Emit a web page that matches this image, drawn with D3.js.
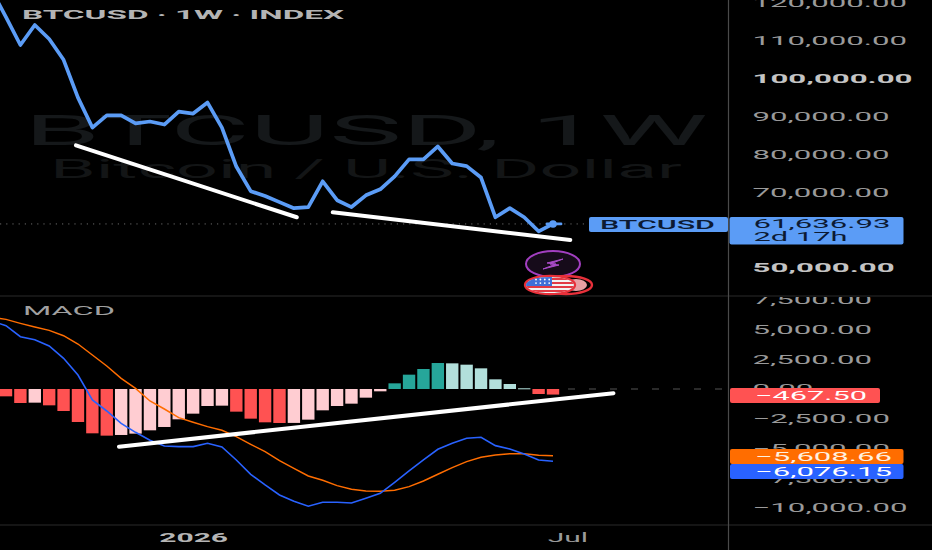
<!DOCTYPE html>
<html>
<head>
<meta charset="utf-8">
<title>BTCUSD</title>
<script src="https://d3js.org/d3.v7.min.js"></script>
<style>
html,body{margin:0;padding:0;background:#000;overflow:hidden}
svg{display:block}
text{font-family:Roboto,"Liberation Sans",sans-serif}
</style>
</head>
<body>
<svg class="chart"></svg>
<script>
// week index -1 sits just off the left edge
const weeks = d3.range(-1, 39)
const price = [123400,116300,108900,114200,110500,105000,95000,87100,90300,90300,88200,88700,87900,91300,90800,93700,87100,76800,70300,69000,67400,65800,66100,72900,67900,66100,69200,70800,74200,78700,78700,82100,77600,76900,73900,63400,65800,63400,59700,61636.93]
const macdLine = [5712,5320,4396,4144,3612,2576,1176,-924,-1848,-2884,-3640,-4312,-4788,-4844,-4844,-4564,-4872,-5964,-7168,-8064,-8904,-9436,-9856,-9520,-9520,-9576,-9184,-8764,-7840,-6888,-5964,-5068,-4564,-4144,-4060,-4760,-5040,-5460,-5964,-6076.15]
const signalLine = [6048,5852,5516,5208,4928,4480,3780,2856,1932,896,56,-1008,-1680,-2408,-2800,-3164,-3472,-4004,-4648,-5264,-6020,-6664,-7308,-7672,-8120,-8428,-8568,-8596,-8512,-8204,-7728,-7168,-6608,-6104,-5740,-5544,-5432,-5432,-5572,-5608.66]
const histogram = [-616,-1176,-1148,-1372,-1848,-2772,-3724,-3920,-3864,-3752,-3472,-3192,-2548,-2072,-1428,-1400,-1904,-2492,-2800,-2856,-2850,-2576,-1792,-1428,-1232,-728,-196,476,1204,1680,2184,2156,2044,1736,812,420,60,-420,-467.5]

const priceTicks = [120000,110000,100000,90000,80000,70000,50000]
const macdTicks = [7500,5000,2500,0,-2500,-5000,-7500,-10000]
const boldTicks = [100000,50000]
const timeTicks = [13,39]
const timeLabels = ['2026','Jul']

// hand drawn trend lines [week, value]
const priceTrends = [[[4.86,82400],[20.2,63400]],[[22.7,64700],[39.2,57400]]]
const macdTrend = [[7.85,-4850],[42.2,-350]]

const w = 932, h = 550
const axisX = 728.5
const svg = d3.select('.chart').attr('width', w).attr('height', h)
const defs = svg.append('defs')

const x = d3.scaleLinear().domain([0, 38]).range([6, 553])
const yPrice = d3.scaleLinear().domain([50000, 120000]).range([268, 3])
const yMacd = d3.scaleLinear().domain([-10000, 5000]).range([508, 329.5])
const barW = (x(1) - x(0)) * 0.86

// widen text the way the stretched screenshot does
function stretch(sel, k){
    sel.each(function(){
        let len = this.getComputedTextLength()
        d3.select(this).attr('textLength', len * k).attr('lengthAdjust', 'spacingAndGlyphs')
    })
}
function label(txt, px, py, size, color, width, weight){
    return svg.append('text').text(txt).attr('x', px).attr('y', py)
        .attr('font-size', size).attr('fill', color)
        .attr('font-weight', weight || 400)
        .attr('textLength', width).attr('lengthAdjust', 'spacingAndGlyphs')
}

svg.append('rect').attr('width', w).attr('height', h).attr('fill', '#000')

// watermark
label('BTCUSD, 1W', 24, 145, 42, '#15181a', 684)
label('Bitcoin / U.S. Dollar', 50, 178, 25, '#131516', 632)

// panel lines
svg.append('line').attr('x1', 0).attr('x2', w).attr('y1', 296).attr('y2', 296).attr('stroke', '#2b2b2b')
svg.append('line').attr('x1', 0).attr('x2', w).attr('y1', 525).attr('y2', 525).attr('stroke', '#2b2b2b')
svg.append('line').attr('x1', axisX).attr('x2', axisX).attr('y1', 0).attr('y2', h).attr('stroke', '#4a4a4a').attr('stroke-width', 1.2)

// last price dotted line, macd zero dashes
let lastPrice = price[price.length - 1]
svg.append('line').attr('x1', 0).attr('x2', 589).attr('y1', yPrice(lastPrice)).attr('y2', yPrice(lastPrice))
    .attr('stroke', '#6a6a6a').attr('stroke-dasharray', '1.2 5')
svg.append('line').attr('x1', 568).attr('x2', axisX).attr('y1', yMacd(0)).attr('y2', yMacd(0))
    .attr('stroke', '#555').attr('stroke-dasharray', '7 14')

// price line
const priceLine = d3.line().x((d, i) => x(weeks[i])).y(d => yPrice(d))
svg.append('path').attr('d', priceLine(price)).attr('fill', 'none')
    .attr('stroke', '#5b9cf6').attr('stroke-width', 3.7).attr('stroke-linejoin', 'round')
svg.append('circle').attr('cx', x(38)).attr('cy', yPrice(lastPrice)).attr('r', 3.8).attr('fill', '#5b9cf6')
svg.append('line').attr('x1', x(38) - 6).attr('x2', x(38) + 8).attr('y1', yPrice(lastPrice)).attr('y2', yPrice(lastPrice))
    .attr('stroke', '#5b9cf6').attr('stroke-width', 2.8).attr('stroke-linecap', 'round')

// histogram
svg.append('g').selectAll('rect').data(histogram).enter().append('rect')
    .attr('x', (d, i) => x(i) - barW / 2)
    .attr('width', barW)
    .attr('y', d => d > 0 ? yMacd(d) : yMacd(0))
    .attr('height', d => Math.max(1, Math.abs(yMacd(d) - yMacd(0))))
    .attr('fill', (d, i) => {
        let rising = i > 0 && d > histogram[i - 1]
        if(d >= 0) return rising ? '#26a69a' : '#b2dfdb'
        return rising ? '#ffcdd2' : '#ff5252'
    })

// macd + signal
const macdPath = d3.line().x((d, i) => x(weeks[i])).y(d => yMacd(d))
svg.append('path').attr('d', macdPath(signalLine)).attr('fill', 'none').attr('stroke', '#ff6d00').attr('stroke-width', 1.5)
svg.append('path').attr('d', macdPath(macdLine)).attr('fill', 'none').attr('stroke', '#2962ff').attr('stroke-width', 1.6)

// trend lines
const trendPrice = d3.line().x(d => x(d[0])).y(d => yPrice(d[1]))
priceTrends.forEach(t => {
    svg.append('path').attr('d', trendPrice(t)).attr('fill', 'none').attr('stroke', '#fff')
        .attr('stroke-width', 4).attr('stroke-linecap', 'round')
})
svg.append('path').attr('d', d3.line().x(d => x(d[0])).y(d => yMacd(d[1]))(macdTrend)).attr('fill', 'none')
    .attr('stroke', '#fff').attr('stroke-width', 4).attr('stroke-linecap', 'round')

// icons under the last bars
let iconX = x(38)
let bolt = svg.append('g').attr('transform', 'translate(' + iconX + ',264)')
bolt.append('ellipse').attr('rx', 27).attr('ry', 13).attr('fill', '#160b1a').attr('stroke', '#a23fc0').attr('stroke-width', 2)
bolt.append('path').attr('d', 'M10,-5 L-6,-1 L3,0 L-10,5 L6,1 L-3,0 Z').attr('fill', '#a94bc8').attr('stroke', '#a94bc8')

defs.append('clipPath').attr('id', 'flagClip').append('ellipse').attr('rx', 24).attr('ry', 8)
let flag = svg.append('g').attr('transform', 'translate(' + (iconX - 3) + ',285)')
flag.append('ellipse').attr('cx', 16).attr('rx', 26).attr('ry', 9).attr('fill', '#000').attr('stroke', '#e8303a').attr('stroke-width', 2.4)
flag.append('ellipse').attr('cx', 26).attr('rx', 11).attr('ry', 6).attr('fill', '#e8a0a4')
flag.append('ellipse').attr('rx', 25).attr('ry', 9).attr('fill', '#000').attr('stroke', '#e8303a').attr('stroke-width', 2.4)
let flagInner = flag.append('g').attr('clip-path', 'url(#flagClip)')
flagInner.append('rect').attr('x', -24).attr('y', -8).attr('width', 48).attr('height', 16).attr('fill', '#f2f2f2')
d3.range(4).forEach(i => {
    flagInner.append('rect').attr('x', -24).attr('y', -7 + i * 4).attr('width', 48).attr('height', 2).attr('fill', '#e23a44')
})
flagInner.append('rect').attr('x', -24).attr('y', -8).attr('width', 26).attr('height', 9).attr('fill', '#3f6fd8')
d3.range(4).forEach(i => {
    d3.range(2).forEach(j => {
        flagInner.append('circle').attr('cx', -14 + i * 4.4).attr('cy', -5.5 + j * 3.6).attr('r', 0.9).attr('fill', '#fff')
    })
})

// right axes
function drawAxis(scale, ticks, clipTop){
    let g = svg.append('g').attr('transform', 'translate(' + axisX + ',0)')
        .call(d3.axisRight(scale).tickValues(ticks).tickSize(0).tickPadding(24).tickFormat(d3.format(',.2f')))
    g.select('.domain').remove()
    g.selectAll('text')
        .attr('font-size', 12)
        .attr('font-family', 'Roboto')
        .attr('fill', d => boldTicks.includes(d) ? '#c4c4c4' : '#9a9a9a')
        .attr('font-weight', d => boldTicks.includes(d) ? 700 : 400)
        .call(stretch, 2.6)
    if(clipTop){
        defs.append('clipPath').attr('id', 'macdClip').append('rect').attr('x', -10).attr('y', clipTop).attr('width', 300).attr('height', h)
        g.attr('clip-path', 'url(#macdClip)')
    }
}
drawAxis(yPrice, priceTicks)
drawAxis(yMacd, macdTicks, 297)

// time axis
let timeAxis = svg.append('g').attr('transform', 'translate(0,525)')
    .call(d3.axisBottom(x).tickValues(timeTicks).tickSize(0).tickPadding(8).tickFormat((d, i) => timeLabels[i]))
timeAxis.select('.domain').remove()
timeAxis.selectAll('text').attr('font-size', 12).attr('font-family', 'Roboto')
    .attr('fill', (d, i) => i == 0 ? '#b5b5b5' : '#9a9a9a')
    .attr('font-weight', (d, i) => i == 0 ? 700 : 400)
    .call(stretch, 2.5)

// tags
function tag(left, right, top, bottom, color){
    svg.append('rect').attr('x', left).attr('y', top).attr('width', right - left).attr('height', bottom - top)
        .attr('fill', color).attr('rx', 2)
}
let dark = '#0c1a33'
tag(589, 728, 217, 232, '#5b9cf6')
tag(729.5, 903.5, 217, 244.5, '#5b9cf6')
label('BTCUSD', 600, 229, 12, dark, 115, 500)
label(d3.format(',.2f')(lastPrice), 753.5, 227.5, 12, dark, 137)
label('2d 17h', 753.5, 240.5, 12, dark, 94)

tag(730, 880, 388, 403, '#ff5252')
label(d3.format(',.2f')(histogram[histogram.length - 1]), 755, 400, 12, '#fff', 112)
tag(730, 903.5, 449, 464, '#ff6d00')
label(d3.format(',.2f')(signalLine[signalLine.length - 1]), 755, 461, 12, '#fff1e0', 137)
tag(730, 903.5, 464, 479, '#2962ff')
label(d3.format(',.2f')(macdLine[macdLine.length - 1]), 755, 476, 12, '#fff', 137)

// titles
label('BTCUSD · 1W · INDEX', 22, 18.5, 13, '#b4b4b4', 322, 700)
label('MACD', 23, 315, 12, '#a0a0a0', 92)
</script>
</body>
</html>
